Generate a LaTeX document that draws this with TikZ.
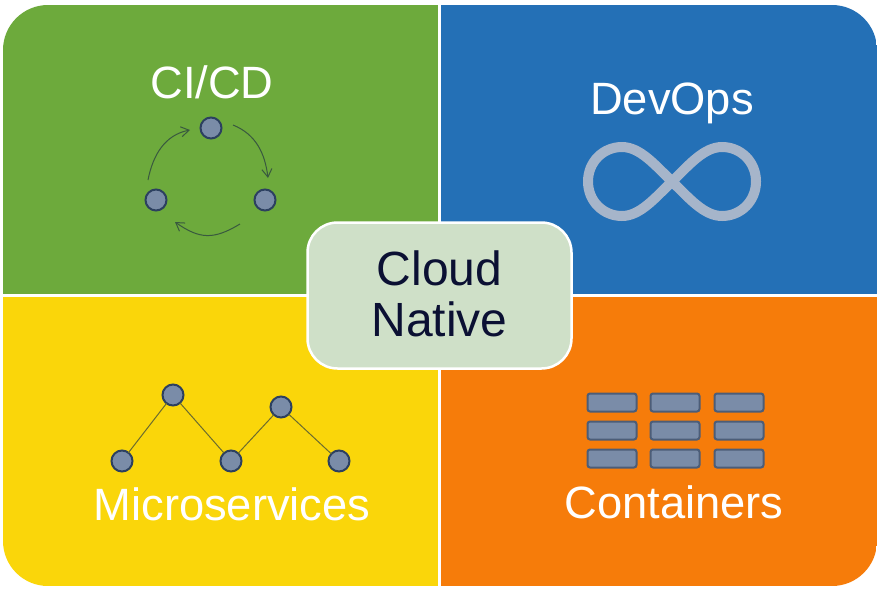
\documentclass[tikz,border=0pt]{standalone}
\usepackage{fontspec}
\setmainfont{Liberation Sans}
\usetikzlibrary{arrows.meta,positioning,calc}
\definecolor{CIgreen}{HTML}{6DAA3C}
\definecolor{DOPblue}{HTML}{2470B6}
\definecolor{MSyellow}{HTML}{FAD60A}
\definecolor{CTorange}{HTML}{F67C0A}
\definecolor{hubfill}{HTML}{CFE0C8}
\definecolor{hubtext}{HTML}{0B1033}
\definecolor{dotfill}{HTML}{7A8CA8}
\definecolor{dotline}{HTML}{2C4060}
\definecolor{flowline}{HTML}{39593F}
\definecolor{linkline}{HTML}{6B6B2E}
\definecolor{loopgray}{HTML}{A6B5CA}
\begin{document}
\begin{tikzpicture}[x=1pt,y=-1pt,
  every node/.style={inner sep=0pt,outer sep=0pt},
  title/.style={text=white,anchor=base,font=\fontsize{45.3}{51}\selectfont},
  dot/.style={circle,draw=dotline,line width=2pt,fill=dotfill,minimum size=21pt},
  slot/.style={rectangle,rounded corners=2.5pt,draw=dotline!85,line width=2pt,fill=dotfill,minimum width=49pt,minimum height=18pt},
  flow/.style={-{Straight Barb[length=8pt,width=10pt]},line width=1pt,flowline},
  link/.style={line width=1pt,linkline}]
\useasboundingbox (0,0) rectangle (880,590);
\fill[white] (0,0) rectangle (880,590);
% four panels
\begin{scope}
\clip[rounded corners=45pt] (3,5) rectangle (877,586);
\fill[CIgreen] (3,5) rectangle (439,295);
\fill[DOPblue] (439,5) rectangle (877,295);
\fill[MSyellow] (3,295) rectangle (439,586);
\fill[CTorange] (439,295) rectangle (877,586);
\draw[white,line width=2.5pt] (439.5,5)--(439.5,586) (3,295.5)--(877,295.5);
\end{scope}
% CI/CD
\node[title] (cicd) at (212,98) {CI/CD};
\node[dot] (ciA) at (211,128) {};
\node[dot] (ciB) at (265,200) {};
\node[dot] (ciC) at (156,200) {};
\coordinate (ciAout) at ($(ciA)+(22,-3)$);
\coordinate (ciBin) at ($(ciB)+(3,-22)$);
\coordinate (ciBout) at ($(ciB)+(-25,24)$);
\coordinate (ciCin) at ($(ciC)+(19,22)$);
\coordinate (ciCout) at ($(ciC)+(-8,-20)$);
\coordinate (ciAin) at ($(ciA)+(-21,2)$);
\draw[flow] (ciAout) to[out=-22,in=97] (ciBin);
\draw[flow] (ciBout) to[out=-149,in=-35,looseness=1.2] (ciCin);
\draw[flow] (ciCout) to[out=79,in=191] (ciAin);
% DevOps
\node[title] (devops) at (672,114) {DevOps};
\draw[loopgray,line width=10pt,line join=round] (672,181.5)
  .. controls (689,165) and (704,147) .. (722,147)
  .. controls (741,147) and (756,162) .. (756,181.5)
  .. controls (756,201) and (741,216) .. (722,216)
  .. controls (704,216) and (689,198) .. (672,181.5)
  .. controls (655,165) and (640,147) .. (622,147)
  .. controls (603,147) and (588,162) .. (588,181.5)
  .. controls (588,201) and (603,216) .. (622,216)
  .. controls (640,216) and (655,198) .. (672,181.5) -- cycle;
% Microservices
\node[title] (micro) at (232,520) {Microservices};
\node[dot] (msA) at (122,461) {};
\node[dot] (msB) at (173,395) {};
\node[dot] (msC) at (231,461) {};
\node[dot] (msD) at (281,407) {};
\node[dot] (msE) at (339,461) {};
\foreach \a/\b in {msA/msB,msB/msC,msC/msD,msD/msE}
  \draw[link] (\a)--(\b);
% Containers
\node[title] (contain) at (674,518) {Containers};
\foreach \x/\c in {612/a,675/b,739/c}
  \foreach \y/\r in {402.5/x,430.5/y,458.5/z}
    \node[slot] (box\c\r) at (\x,\y) {};
% Cloud Native
\node[rectangle,rounded corners=30pt,draw=white,line width=2.5pt,fill=hubfill,minimum width=264pt,minimum height=146pt,
  text=hubtext,align=center,text depth=4pt,font=\fontsize{48}{51}\selectfont] (hub) at (439.5,295.5) {Cloud\\Native};
\end{tikzpicture}
\end{document}
